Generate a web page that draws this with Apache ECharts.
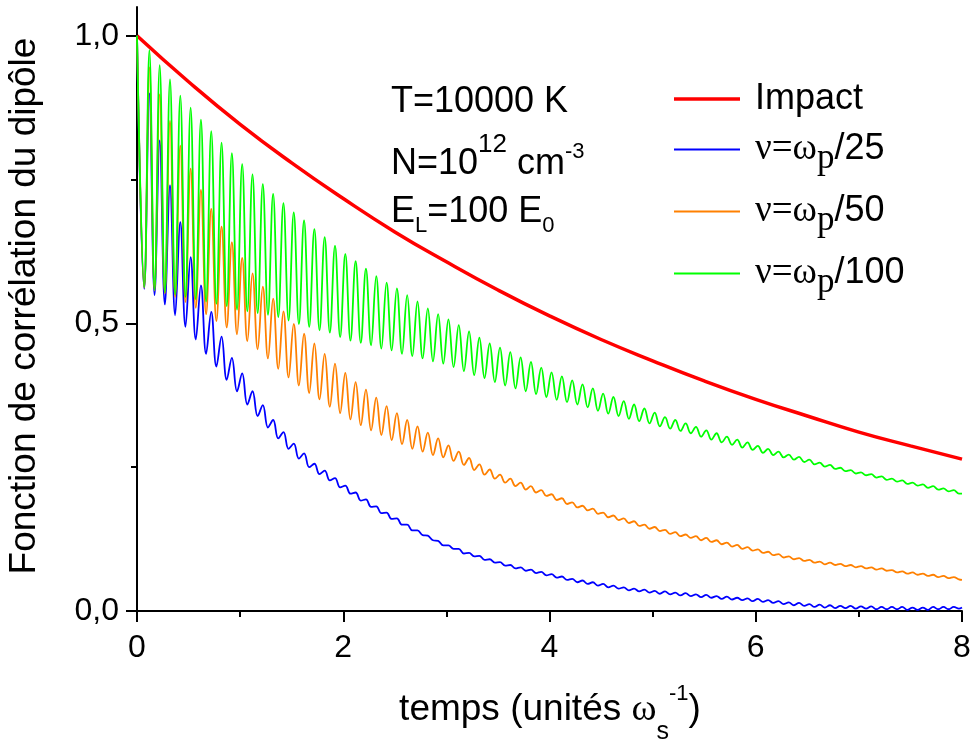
<!DOCTYPE html>
<html>
<head>
<meta charset="utf-8">
<script src="https://cdn.jsdelivr.net/npm/echarts@6/dist/echarts.min.js"></script>
<style>
html,body{margin:0;padding:0;background:#ffffff;}
#chart{width:971px;height:746px;}
</style>
</head>
<body>
<div id="chart"></div>
<script>
// ---------------- data ----------------
const seriesNames = ['Impact', 'ν=ωp/25', 'ν=ωp/50', 'ν=ωp/100'];
const xTickValues = [0, 2, 4, 6, 8];
const yTickValues = [0, 0.5, 1.0];
const yMinorTickValues = [0.25, 0.75];

// Impact curve, sampled every 0.5 time unit
const impactTimes = [0, 0.5, 1, 1.5, 2, 2.5, 3, 3.5, 4, 4.5, 5, 5.5, 6, 6.5, 7, 7.5, 8];
const impactValues = [1.000, 0.920, 0.846, 0.779, 0.717, 0.659, 0.607, 0.558, 0.513,
                      0.472, 0.435, 0.400, 0.368, 0.339, 0.311, 0.287, 0.264];

// oscillating curves: one value per trough / per peak (period)
const oscPeriod = 0.1;
const firstTroughTime = 0.07;
const firstPeakTime = 0.12;
const startValue = 1.0;
const endTime = 8;

const blueTroughs = [0.560,0.549,0.533,0.514,0.494,0.472,0.447,0.425,0.402,0.382,
  0.359,0.339,0.319,0.300,0.282,0.265,0.250,0.238,0.227,0.215,
  0.204,0.192,0.181,0.170,0.160,0.150,0.140,0.132,0.123,0.114,
  0.108,0.100,0.095,0.089,0.084,0.079,0.074,0.070,0.066,0.062,
  0.058,0.054,0.050,0.047,0.044,0.041,0.039,0.036,0.034,0.032,
  0.030,0.029,0.027,0.026,0.024,0.023,0.021,0.020,0.019,0.017,
  0.016,0.014,0.012,0.010,0.009,0.007,0.006,0.005,0.005,0.004,
  0.004,0.003,0.003,0.003,0.002,0.002,0.002,0.003,0.003,0.004];
const bluePeaks = [0.900,0.818,0.740,0.676,0.615,0.566,0.520,0.477,0.440,0.413,
  0.382,0.358,0.332,0.311,0.291,0.274,0.256,0.244,0.231,0.218,
  0.206,0.194,0.182,0.171,0.161,0.150,0.140,0.131,0.122,0.114,
  0.108,0.101,0.096,0.090,0.085,0.080,0.076,0.072,0.068,0.064,
  0.060,0.056,0.053,0.050,0.047,0.044,0.041,0.039,0.037,0.035,
  0.034,0.032,0.031,0.029,0.028,0.026,0.025,0.023,0.022,0.021,
  0.019,0.017,0.015,0.014,0.012,0.011,0.010,0.009,0.009,0.008,
  0.008,0.007,0.007,0.007,0.006,0.006,0.007,0.007,0.007];
const blueEnd = 0.006;

const orangeTroughs = [0.562,0.557,0.552,0.546,0.537,0.527,0.516,0.504,0.493,0.481,
  0.469,0.455,0.439,0.421,0.406,0.392,0.379,0.368,0.355,0.344,
  0.333,0.323,0.314,0.306,0.297,0.290,0.282,0.277,0.271,0.267,
  0.261,0.254,0.245,0.237,0.230,0.223,0.217,0.211,0.206,0.200,
  0.193,0.186,0.180,0.175,0.169,0.163,0.158,0.153,0.148,0.143,
  0.139,0.134,0.130,0.127,0.123,0.120,0.116,0.112,0.108,0.105,
  0.101,0.097,0.093,0.090,0.087,0.084,0.081,0.080,0.078,0.076,
  0.074,0.072,0.070,0.067,0.065,0.063,0.061,0.059,0.057,0.055];
const orangePeaks = [0.945,0.898,0.852,0.809,0.769,0.732,0.699,0.668,0.641,0.614,
  0.587,0.564,0.543,0.521,0.499,0.482,0.465,0.447,0.430,0.414,
  0.398,0.385,0.371,0.356,0.344,0.332,0.321,0.310,0.300,0.288,
  0.277,0.266,0.255,0.246,0.237,0.230,0.223,0.217,0.210,0.203,
  0.196,0.189,0.183,0.178,0.171,0.166,0.161,0.156,0.150,0.146,
  0.141,0.137,0.133,0.130,0.127,0.123,0.119,0.115,0.111,0.107,
  0.103,0.099,0.095,0.092,0.089,0.086,0.084,0.082,0.080,0.078,
  0.076,0.074,0.071,0.069,0.067,0.065,0.063,0.061,0.059];
const orangeEnd = 0.054;

const greenTroughs = [0.563,0.558,0.554,0.550,0.546,0.542,0.538,0.534,0.530,0.524,
  0.521,0.518,0.515,0.511,0.505,0.499,0.494,0.488,0.484,0.476,
  0.470,0.466,0.462,0.456,0.453,0.447,0.443,0.439,0.434,0.430,
  0.424,0.417,0.410,0.405,0.398,0.392,0.387,0.382,0.377,0.372,
  0.367,0.363,0.359,0.354,0.348,0.343,0.339,0.334,0.330,0.326,
  0.321,0.317,0.313,0.309,0.303,0.298,0.293,0.289,0.284,0.280,
  0.275,0.271,0.267,0.263,0.259,0.255,0.251,0.247,0.243,0.239,
  0.236,0.232,0.228,0.225,0.221,0.218,0.214,0.211,0.208,0.204];
const greenPeaks = [0.975,0.949,0.924,0.896,0.875,0.854,0.834,0.814,0.796,0.777,
  0.759,0.742,0.725,0.709,0.693,0.679,0.664,0.650,0.635,0.621,
  0.608,0.595,0.582,0.571,0.561,0.549,0.538,0.526,0.516,0.507,
  0.497,0.486,0.475,0.465,0.458,0.450,0.441,0.433,0.423,0.415,
  0.408,0.401,0.394,0.387,0.378,0.372,0.365,0.359,0.352,0.345,
  0.337,0.332,0.326,0.320,0.314,0.309,0.303,0.298,0.293,0.287,
  0.282,0.277,0.272,0.268,0.263,0.258,0.254,0.249,0.245,0.241,
  0.238,0.234,0.230,0.227,0.223,0.220,0.217,0.213,0.210];
const greenEnd = 0.204;

// ---------------- build series data ----------------
function buildOsc(troughs, peaks, endValue) {
  const pts = [[0, startValue]];
  for (let k = 0; k < troughs.length; k++) {
    pts.push([+(firstTroughTime + oscPeriod * k).toFixed(3), troughs[k]]);
    if (k < peaks.length) pts.push([+(firstPeakTime + oscPeriod * k).toFixed(3), peaks[k]]);
  }
  pts.push([endTime, endValue]);
  return pts;
}
const impactData = impactTimes.map((t, i) => [t, impactValues[i]]);
const blueData = buildOsc(blueTroughs, bluePeaks, blueEnd);
const orangeData = buildOsc(orangeTroughs, orangePeaks, orangeEnd);
const greenData = buildOsc(greenTroughs, greenPeaks, greenEnd);

const colors = ['#ff0000', '#0000ff', '#ff8000', '#00ff00'];
const lineWidths = [3.5, 1.8, 1.8, 1.8];
const SANS = 'Liberation Sans';
const SERIF = 'Liberation Serif';

// rich-text line box height used to place sub/superscripts
const LB = 60;
const legendRich = {
  a: {fontFamily: SANS, fontSize: 36, lineHeight: LB, verticalAlign: 'middle', color: '#000'},
  g: {fontFamily: SERIF, fontSize: 37, lineHeight: LB, verticalAlign: 'middle', color: '#000'},
  p: {fontFamily: SERIF, fontSize: 35, verticalAlign: 'bottom', padding: [0, 0, 3, 0], color: '#000'}
};
function legendFmt(name) {
  if (name === 'Impact') return '{a|Impact}';
  const m = name.match(/^ν=ωp(\/\d+)$/);
  return '{g|ν=ω}{p|p}{a|' + m[1] + '}';
}
const legendTops = [81, 131, 193, 255];

const LA = 64;
const annoRich = {
  a: {fontFamily: SANS, fontSize: 36, lineHeight: LA, verticalAlign: 'middle', fill: '#000'},
  sup1: {fontFamily: SANS, fontSize: 26, verticalAlign: 'top', padding: [0, 0, 0, 0], fill: '#000'},
  sup2: {fontFamily: SANS, fontSize: 22, verticalAlign: 'top', padding: [9, 0, 0, 0], fill: '#000'},
  sub: {fontFamily: SANS, fontSize: 22, verticalAlign: 'bottom', padding: [0, 0, 7, 0], fill: '#000'}
};
const LX = 72;
const xTitleRich = {
  a: {fontFamily: SANS, fontSize: 37, lineHeight: LX, verticalAlign: 'middle', fill: '#000'},
  w: {fontFamily: SERIF, fontSize: 38, lineHeight: LX, verticalAlign: 'middle', fill: '#000'},
  s: {fontFamily: SANS, fontSize: 25, verticalAlign: 'bottom', padding: [0, 0, 1, 0], fill: '#000'},
  e: {fontFamily: SANS, fontSize: 22, verticalAlign: 'top', padding: [9, 0, 0, 0], fill: '#000'}
};

const chart = echarts.init(document.getElementById('chart'), null, {renderer: 'canvas'});
chart.setOption({
  animation: false,
  backgroundColor: '#ffffff',
  grid: {left: 137, right: 9, top: 7, bottom: 135, containLabel: false, outerBoundsMode: 'none'},
  xAxis: {
    type: 'value', min: 0, max: 8, interval: 2,
    axisLine: {show: true, onZero: false, lineStyle: {color: '#000', width: 2}},
    axisTick: {show: true, inside: false, length: 11, lineStyle: {color: '#000', width: 2}},
    minorTick: {show: true, splitNumber: 2, length: 6, lineStyle: {color: '#000', width: 2}},
    axisLabel: {show: true, margin: 21, fontFamily: SANS, fontSize: 32, color: '#000',
      customValues: xTickValues, formatter: v => String(v)},
    splitLine: {show: false}, minorSplitLine: {show: false}
  },
  yAxis: [{
    type: 'value', min: 0, max: 1.05, interval: 0.5,
    axisLine: {show: true, onZero: false, lineStyle: {color: '#000', width: 2}},
    axisTick: {show: true, inside: false, length: 11, customValues: yTickValues, lineStyle: {color: '#000', width: 2}},
    axisLabel: {show: true, margin: 18, fontFamily: SANS, fontSize: 32, color: '#000',
      customValues: yTickValues, formatter: v => v.toFixed(1).replace('.', ',')},
    splitLine: {show: false}
  }, {
    type: 'value', min: 0, max: 1.05, position: 'left',
    axisLine: {show: false},
    axisTick: {show: true, inside: false, length: 6, customValues: yMinorTickValues, lineStyle: {color: '#000', width: 2}},
    axisLabel: {show: false},
    splitLine: {show: false}
  }],
  legend: seriesNames.map((name, i) => ({
    data: [name],
    orient: 'vertical',
    left: 674,
    top: legendTops[i],
    padding: 0,
    icon: 'rect',
    itemWidth: 66,
    itemHeight: lineWidths[i],
    selectedMode: false,
    formatter: legendFmt,
    textStyle: {padding: [0, 0, 0, 10], rich: legendRich}
  })),
  series: [
    {name: seriesNames[0], type: 'line', data: impactData, smooth: true, symbol: 'none', showSymbol: false,
     lineStyle: {color: colors[0], width: lineWidths[0]}, itemStyle: {color: colors[0]}},
    {name: seriesNames[1], type: 'line', data: blueData, smooth: 0.4, symbol: 'none', showSymbol: false,
     lineStyle: {color: colors[1], width: lineWidths[1]}, itemStyle: {color: colors[1]}},
    {name: seriesNames[2], type: 'line', data: orangeData, smooth: 0.4, symbol: 'none', showSymbol: false,
     lineStyle: {color: colors[2], width: lineWidths[2]}, itemStyle: {color: colors[2]}},
    {name: seriesNames[3], type: 'line', data: greenData, smooth: 0.4, symbol: 'none', showSymbol: false,
     lineStyle: {color: colors[3], width: lineWidths[3]}, itemStyle: {color: colors[3]}}
  ],
  graphic: [
    {type: 'text', x: 391, y: 102, silent: true,
     style: {text: '{a|T=10000 K}', rich: annoRich, align: 'left', verticalAlign: 'middle'}},
    {type: 'text', x: 391, y: 164, silent: true,
     style: {text: '{a|N=10}{sup1|12}{a| cm}{sup2|-3}', rich: annoRich, align: 'left', verticalAlign: 'middle'}},
    {type: 'text', x: 391, y: 212, silent: true,
     style: {text: '{a|E}{sub|L}{a|=100 E}{sub|0}', rich: annoRich, align: 'left', verticalAlign: 'middle'}},
    {type: 'text', x: 550, y: 710, silent: true,
     style: {text: '{a|temps (unités }{w|ω}{s|s}{e|-1}{a|)}', rich: xTitleRich, align: 'center', verticalAlign: 'middle'}},
    {type: 'text', x: 25, y: 306, rotation: Math.PI / 2, silent: true,
     style: {text: 'Fonction de corrélation du dipôle', fontFamily: SANS, fontSize: 37, fill: '#000',
             align: 'center', verticalAlign: 'middle'}}
  ]
});
</script>
</body>
</html>
